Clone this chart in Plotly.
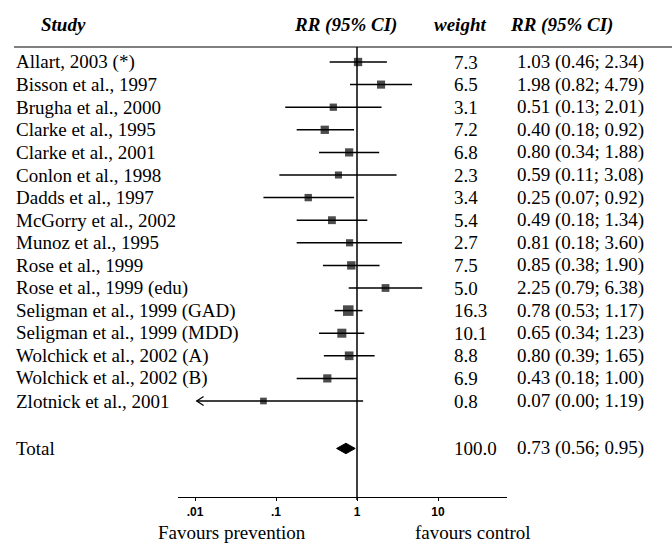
import plotly.graph_objects as go

W, H = 672, 546

studies = ["Allart, 2003 (*)", "Bisson et al., 1997", "Brugha et al., 2000",
           "Clarke et al., 1995", "Clarke et al., 2001", "Conlon et al., 1998",
           "Dadds et al., 1997", "McGorry et al., 2002", "Munoz et al., 1995",
           "Rose et al., 1999", "Rose et al., 1999 (edu)",
           "Seligman et al., 1999 (GAD)", "Seligman et al., 1999 (MDD)",
           "Wolchick et al., 2002 (A)", "Wolchick et al., 2002 (B)",
           "Zlotnick et al., 2001"]
weights = [7.3, 6.5, 3.1, 7.2, 6.8, 2.3, 3.4, 5.4, 2.7, 7.5, 5.0, 16.3, 10.1, 8.8, 6.9, 0.8]
rr = [1.03, 1.98, 0.51, 0.40, 0.80, 0.59, 0.25, 0.49, 0.81, 0.85, 2.25, 0.78, 0.65, 0.80, 0.43, 0.07]
lo = [0.46, 0.82, 0.13, 0.18, 0.34, 0.11, 0.07, 0.18, 0.18, 0.38, 0.79, 0.53, 0.34, 0.39, 0.18, 0.00]
hi = [2.34, 4.79, 2.01, 0.92, 1.88, 3.08, 0.92, 1.34, 3.60, 1.90, 6.38, 1.17, 1.23, 1.65, 1.00, 1.19]

total_label = "Total"
total_weight = 100.0
total_rr, total_lo, total_hi = 0.73, 0.56, 0.95

tick_vals = [0.01, 0.1, 1, 10]
tick_text = ["<b>.01</b>", "<b>.1</b>", "<b>1</b>", "<b>10</b>"]
x_min_shown = 0.0105  # left clip for CI lines (arrow)

SERIF = "Liberation Serif, Times New Roman, serif"
FS = 19

# pixel layout helpers
ROW0, ROWH = 62.0, 22.6
RULE_Y, AXIS_Y = 47.0, 497.0
X_LEFT, X_RIGHT = 178.0, 507.0
PX_DEC = 81.0
X1_PX = 357.0

def px_to_v(p):
    return (p - ROW0) / ROWH

def pyp(p):
    return 1 - p / H

def pxp(p):
    return p / W

x_range = [0 - (X1_PX - X_LEFT) / PX_DEC, 0 + (X_RIGHT - X1_PX) / PX_DEC]
y_range = [px_to_v(AXIS_Y), px_to_v(RULE_Y)]

fig = go.Figure()

n = len(studies)
ys = list(range(n))
total_y = n - 1 + 2.1

# CI lines
for i in range(n):
    l = max(lo[i], x_min_shown)
    fig.add_trace(go.Scatter(x=[l, hi[i]], y=[ys[i], ys[i]], mode="lines",
                             line=dict(color="black", width=1.5),
                             hoverinfo="skip", showlegend=False))
    if lo[i] < x_min_shown:
        f = 10 ** 0.085
        fig.add_trace(go.Scatter(x=[l * f, l, l * f], y=[ys[i] - 0.2, ys[i], ys[i] + 0.2],
                                 mode="lines", line=dict(color="black", width=1.3),
                                 hoverinfo="skip", showlegend=False))

# squares
fig.add_trace(go.Scatter(x=rr, y=ys, mode="markers",
                         marker=dict(symbol="square", color="black",
                                     size=[6.5 + 0.25 * w for w in weights],
                                     line=dict(width=0)),
                         hoverinfo="skip", showlegend=False))

# diamond
fig.add_trace(go.Scatter(x=[total_lo, total_rr, total_hi, total_rr, total_lo],
                         y=[total_y, total_y - 0.23, total_y, total_y + 0.23, total_y],
                         mode="lines", fill="toself", fillcolor="black",
                         line=dict(color="black", width=1),
                         hoverinfo="skip", showlegend=False))

shapes = [
    dict(type="line", xref="paper", yref="paper", x0=pxp(14), x1=1.0,
         y0=pyp(RULE_Y), y1=pyp(RULE_Y), line=dict(color="black", width=1.2)),
    dict(type="line", xref="x", yref="paper", x0=1, x1=1,
         y0=pyp(RULE_Y), y1=pyp(AXIS_Y + 3), line=dict(color="black", width=1.5)),
]

ann = []
def txt(x, y, s, xanchor="left", yref="y", size=FS, family=SERIF, yanchor="middle"):
    ann.append(dict(x=x, y=y, xref="paper", yref=yref, text=s, showarrow=False,
                    xanchor=xanchor, yanchor=yanchor,
                    font=dict(family=family, size=size, color="black")))

# headers
hy = pyp(25)
txt(pxp(39), hy, "<b><i>Study</i></b>", yref="paper")
txt(pxp(346), hy, "<b><i>RR (95% CI)</i></b>", xanchor="center", yref="paper")
txt(pxp(432), hy, "<b><i>weight</i></b>", yref="paper")
txt(pxp(508), hy, "<b><i>RR (95% CI)</i></b>", yref="paper")

for i in range(n):
    txt(pxp(14), ys[i], studies[i])
    txt(pxp(452), ys[i], f"{weights[i]:.1f}")
    txt(pxp(515), ys[i], f"{rr[i]:.2f} ({lo[i]:.2f}; {hi[i]:.2f})")

txt(pxp(14), total_y, total_label)
txt(pxp(452), total_y, f"{total_weight:.1f}")
txt(pxp(515), total_y, f"{total_rr:.2f} ({total_lo:.2f}; {total_hi:.2f})")

txt(pxp(232), pyp(545), "Favours prevention", xanchor="center", yref="paper", yanchor="bottom")
txt(pxp(473), pyp(545), "favours control", xanchor="center", yref="paper", yanchor="bottom")

fig.update_layout(
    width=W, height=H, margin=dict(l=0, r=0, t=0, b=0),
    paper_bgcolor="white", plot_bgcolor="white",
    shapes=shapes, annotations=ann, showlegend=False,
    xaxis=dict(type="log", range=x_range, domain=[pxp(X_LEFT), pxp(X_RIGHT)],
               showgrid=False, zeroline=False, showline=True, linecolor="black",
               linewidth=1.3, ticks="outside", ticklen=3, tickcolor="black",
               tickvals=tick_vals, ticktext=tick_text,
               tickfont=dict(family="Liberation Sans, Arial, sans-serif", size=12, color="black"),
               fixedrange=True),
    yaxis=dict(range=y_range, domain=[pyp(AXIS_Y), pyp(RULE_Y)], visible=False,
               fixedrange=True),
)

fig.write_html("out.html", config={"displayModeBar": False},
               post_script="document.body.style.margin='0';document.body.style.overflow='hidden';")
